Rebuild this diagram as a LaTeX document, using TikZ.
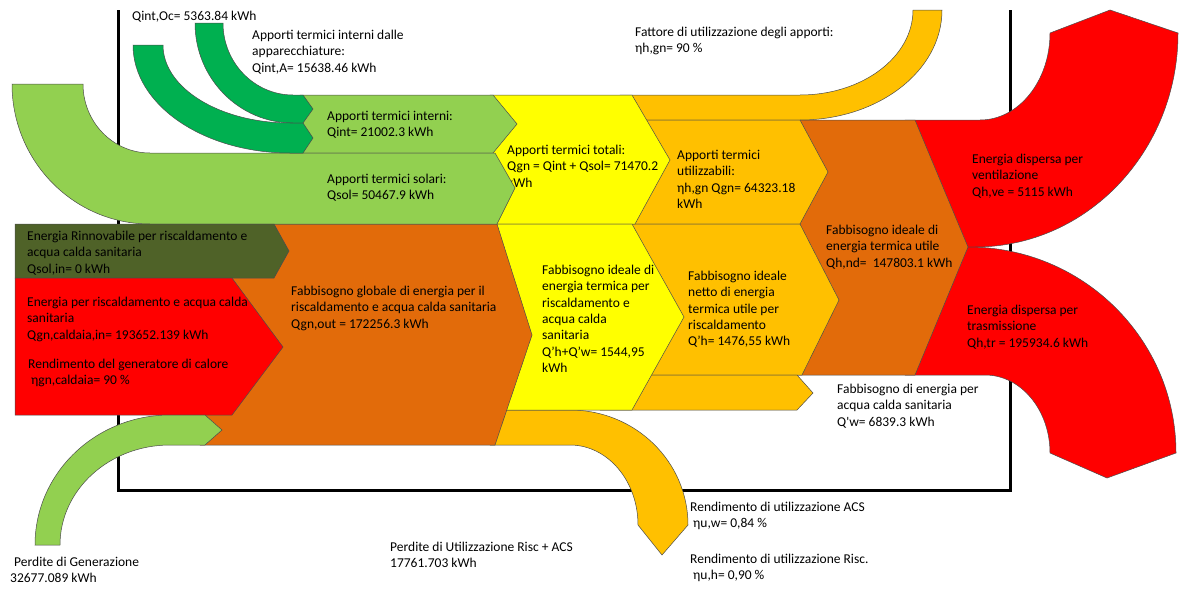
\documentclass[tikz,border=0pt]{standalone}
\usepackage{fontspec}
\setmainfont{Carlito}
\definecolor{lgreen}{HTML}{92D050}
\definecolor{dgreen}{HTML}{00B050}
\definecolor{cyellow}{HTML}{FFFF00}
\definecolor{corange}{HTML}{FFC000}
\definecolor{cbrown}{HTML}{E26B0A}
\definecolor{cred}{HTML}{FF0000}
\definecolor{colive}{HTML}{4F6228}
\begin{document}
\begin{tikzpicture}[x=1pt,y=-1pt,
  flow/.style={draw=black!70, line width=0.5pt, line join=miter},
  lbl/.style={anchor=north west, inner sep=0pt, align=left, font=\fontsize{13.5}{16.3}\selectfont, text=black},
  frameline/.style={line width=3pt, line join=miter}]
\useasboundingbox (0,0) rectangle (1196,589);

% frame
\draw[frameline] (118,10) -- (118,490) -- (1010,490) -- (1010,10);

% red losses (right)
\filldraw[fill=cred, flow] (905,120) -- (980,120) arc[start angle=90, end angle=0, x radius=70, y radius=87] -- (1110,10) -- (1178,33) arc[start angle=0, end angle=90, x radius=203, y radius=214] -- (905,247) -- cycle;
\filldraw[fill=cred, flow] (905,247) -- (968,247) arc[start angle=-90, end angle=0, x radius=208, y radius=206] -- (1107,478) -- (1050,453) arc[start angle=0, end angle=-90, x radius=65, y radius=78] -- (905,375) -- cycle;

% brown ideal
\filldraw[fill=cbrown, flow] (790,120) -- (915,120) -- (968,247) -- (915,375) -- (790,375) -- cycle;

% orange parts
\filldraw[fill=corange, flow] (620,95) -- (800,95) arc[start angle=90, end angle=0, x radius=113, y radius=85] -- (942,10) arc[start angle=0, end angle=90, x radius=142, y radius=110] -- (620,120) -- cycle;
\filldraw[fill=corange, flow] (630,120) -- (800,120) -- (828,172) -- (800,224) -- (630,224) -- cycle;
\filldraw[fill=corange, flow] (600,224) -- (800,224) -- (839,300) -- (802,375) -- (600,375) -- cycle;
\filldraw[fill=corange, flow] (600,375) -- (797,375) -- (813,393) -- (797,410) -- (600,410) -- cycle;
\filldraw[fill=corange, flow] (490,410) -- (570,410) arc[start angle=-90, end angle=0, x radius=118, y radius=115] -- (662,555) -- (638,525) arc[start angle=0, end angle=-90, x radius=68, y radius=80] -- (490,445) -- cycle;

% yellow
\filldraw[fill=cyellow, flow] (490,95) -- (632,95) -- (670,160) -- (635,224) -- (490,224) -- cycle;
\filldraw[fill=cyellow, flow] (490,224) -- (632,224) -- (684,317) -- (632,410) -- (490,410) -- cycle;
\node[lbl] (tot) at (507,145) {Apporti termici totali:\\Qgn = Qint + Qsol= 71470.2\\kWh};

% brown global
\filldraw[fill=cbrown, flow] (200,224) -- (497,224) -- (532,335) -- (495,445) -- (200,445) -- cycle;

% light green
\filldraw[fill=lgreen, flow] (300,95) -- (493,95) -- (517,124) -- (493,153) -- (300,153) -- cycle;
\filldraw[fill=lgreen, flow] (12,84) -- (83,84) arc[start angle=180, end angle=90, x radius=67, y radius=69] -- (495,153) -- (515,188) -- (497,224) -- (150,224) arc[start angle=90, end angle=180, x radius=138, y radius=140] -- cycle;

% dark green
\filldraw[fill=dgreen, flow] (195,23) -- (223,23) arc[start angle=180, end angle=90, x radius=70, y radius=72] -- (303,95) -- (313,109) -- (303,123) -- (293,123) arc[start angle=90, end angle=180, x radius=98, y radius=100] -- cycle;
\filldraw[fill=dgreen, flow] (133,45) -- (163,45) arc[start angle=180, end angle=90, x radius=127, y radius=78] -- (303,123) -- (313,138) -- (303,153) -- (290,153) arc[start angle=90, end angle=180, x radius=157, y radius=108] -- cycle;

% left inputs
\filldraw[fill=colive, flow] (15,224) -- (274,224) -- (289,251) -- (274,278) -- (15,278) -- cycle;
\filldraw[fill=cred, flow] (15,278) -- (232,278) -- (283,347) -- (232,415) -- (15,415) -- cycle;
\filldraw[fill=lgreen, flow] (170,415) -- (205,415) -- (222,430) -- (205,445) -- (170,445) arc[start angle=-90, end angle=-180, x radius=110, y radius=100] -- (35,545) arc[start angle=180, end angle=270, x radius=135, y radius=130] -- cycle;

% labels
\node[lbl] (oc) at (132,11) {Qint,Oc= 5363.84 kWh};
\node[lbl] (app) at (252,30) {Apporti termici interni dalle\\apparecchiature:\\Qint,A= 15638.46 kWh};
\node[lbl] (fat) at (635,27) {Fattore di utilizzazione degli apporti:\\ηh,gn= 90 \%};
\node[lbl] (int) at (327,111) {Apporti termici interni:\\Qint= 21002.3 kWh};
\node[lbl] (sol) at (327,174) {Apporti termici solari:\\Qsol= 50467.9 kWh};
\node[lbl] (uti) at (677,150) {Apporti termici\\utilizzabili:\\ηh,gn Qgn= 64323.18\\kWh};
\node[lbl] (ven) at (972,154) {Energia dispersa per\\ventilazione\\Qh,ve = 5115 kWh};
\node[lbl] (nd) at (826,225) {Fabbisogno ideale di\\energia termica utile\\Qh,nd=~ 147803.1 kWh};
\node[lbl] (rin) at (27,231) {Energia Rinnovabile per riscaldamento e\\acqua calda sanitaria\\Qsol,in= 0 kWh};
\node[lbl] (cal) at (27,297) {Energia per riscaldamento e acqua calda\\sanitaria\\Qgn,caldaia,in= 193652.139 kWh};
\node[lbl] (gen) at (28,359) {Rendimento del generatore di calore\\\hspace*{3pt}ηgn,caldaia= 90 \%};
\node[lbl] (glo) at (291,286) {Fabbisogno globale di energia per il\\riscaldamento e acqua calda sanitaria\\Qgn,out = 172256.3 kWh};
\node[lbl] (idl) at (542,265) {Fabbisogno ideale di\\energia termica per\\riscaldamento e\\acqua calda\\sanitaria\\Q’h+Q’w= 1544,95\\kWh};
\node[lbl] (net) at (688,271) {Fabbisogno ideale\\netto di energia\\termica utile per\\riscaldamento\\Q’h= 1476,55 kWh};
\node[lbl] (tra) at (967,305) {Energia dispersa per\\trasmissione\\Qh,tr = 195934.6 kWh};
\node[lbl] (acs) at (837,384) {Fabbisogno di energia per\\acqua calda sanitaria\\Q\textquotesingle w= 6839.3 kWh};
\node[lbl] (rw) at (690,502) {Rendimento di utilizzazione ACS\\\hspace*{3pt}ηu,w= 0,84 \%};
\node[lbl] (rh) at (690,554) {Rendimento di utilizzazione Risc.\\\hspace*{3pt}ηu,h= 0,90 \%};
\node[lbl] (pu) at (390,542) {Perdite di Utilizzazione Risc + ACS\\17761.703 kWh};
\node[lbl] (pg) at (10,557) {\hspace*{4pt}Perdite di Generazione\\32677.089 kWh};
\end{tikzpicture}
\end{document}
